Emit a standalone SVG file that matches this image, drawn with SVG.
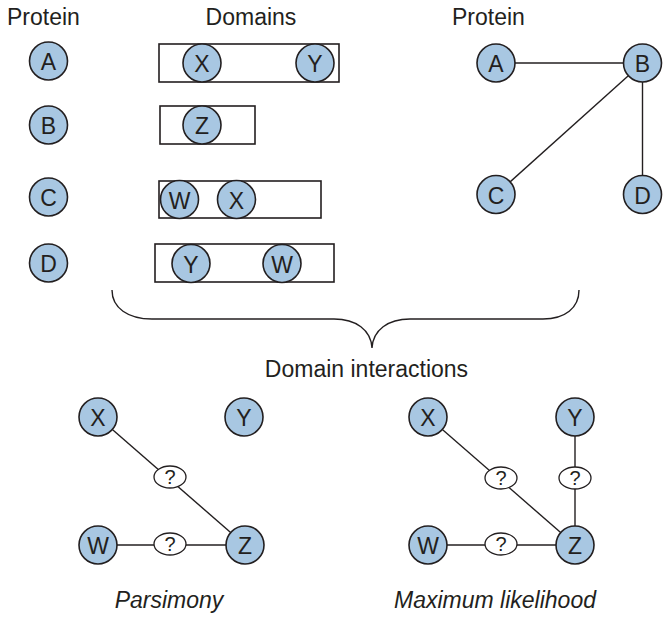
<svg xmlns="http://www.w3.org/2000/svg" width="670" height="618" viewBox="0 0 670 618">
<style>
text{font-family:"Liberation Sans",Arial,sans-serif;fill:#231f20}
.h{font-size:23px}
.n circle{fill:#a8c7e2;stroke:#231f20;stroke-width:1.6}
.n text{font-size:23px;text-anchor:middle;dominant-baseline:central}
.q ellipse{fill:#fff;stroke:#231f20;stroke-width:1.3}
.q text{font-size:20px;text-anchor:middle;dominant-baseline:central}
.box{fill:#fff;stroke:#231f20;stroke-width:1.6}
.e{stroke:#231f20;stroke-width:1.4;fill:none}
.it{font-size:23px;font-style:italic;text-anchor:middle}
</style>
<rect width="670" height="618" fill="#fff"/>
<text class="h" x="7" y="25">Protein</text>
<text class="h" x="251" y="25" text-anchor="middle">Domains</text>
<text class="h" x="452" y="25">Protein</text>

<g id="pA" class="n"><circle cx="48.5" cy="61" r="19"/><text x="48.5" y="62">A</text></g>
<g id="pB" class="n"><circle cx="48.5" cy="125" r="19"/><text x="48.5" y="126">B</text></g>
<g id="pC" class="n"><circle cx="48.5" cy="197" r="19"/><text x="48.5" y="198">C</text></g>
<g id="pD" class="n"><circle cx="48.5" cy="263" r="19"/><text x="48.5" y="264">D</text></g>

<g id="domA"><rect class="box" x="159" y="44" width="180" height="38"/>
<g class="n"><circle cx="202" cy="63" r="19"/><text x="202" y="64">X</text></g>
<g class="n"><circle cx="315" cy="63" r="19"/><text x="315" y="64">Y</text></g></g>
<g id="domB"><rect class="box" x="160" y="106" width="95" height="38"/>
<g class="n"><circle cx="202" cy="125" r="19"/><text x="202" y="126">Z</text></g></g>
<g id="domC"><rect class="box" x="159" y="181" width="162" height="37"/>
<g class="n"><circle cx="179.5" cy="199.5" r="19"/><text x="179.5" y="200.5">W</text></g>
<g class="n"><circle cx="236.5" cy="199.5" r="19"/><text x="236.5" y="200.5">X</text></g></g>
<g id="domD"><rect class="box" x="155" y="244" width="179" height="38"/>
<g class="n"><circle cx="191" cy="263.5" r="19"/><text x="191" y="264.5">Y</text></g>
<g class="n"><circle cx="282" cy="263.5" r="19"/><text x="282" y="264.5">W</text></g></g>

<g id="connectors">
<line class="e" x1="496" y1="63" x2="642.5" y2="63"/>
<line class="e" x1="642.5" y1="63" x2="496" y2="194.5"/>
<line class="e" x1="642.5" y1="63" x2="642.5" y2="194.5"/>
<line class="e" x1="98" y1="417" x2="245" y2="545"/>
<line class="e" x1="98" y1="545" x2="245" y2="545"/>
<line class="e" x1="428" y1="417" x2="575" y2="545"/>
<line class="e" x1="428" y1="545" x2="575" y2="545"/>
<line class="e" x1="575" y1="417" x2="575" y2="545"/>
</g>

<g id="rA" class="n"><circle cx="496" cy="63" r="19"/><text x="496" y="64">A</text></g>
<g id="rB" class="n"><circle cx="642.5" cy="63" r="19"/><text x="642.5" y="64">B</text></g>
<g id="rC" class="n"><circle cx="496" cy="194.5" r="19"/><text x="496" y="195.5">C</text></g>
<g id="rD" class="n"><circle cx="642.5" cy="194.5" r="19"/><text x="642.5" y="195.5">D</text></g>

<path id="brace" class="e" d="M112,290 C112,308 128,319 152,319 L334,319 C356,319 371,330 372,348 C373,330 388,319 410,319 L543,319 C565,319 579,308 579,290"/>
<text class="h" x="366.5" y="377" text-anchor="middle">Domain interactions</text>

<g id="pX" class="n"><circle cx="98" cy="417" r="19"/><text x="98" y="418">X</text></g>
<g id="pY" class="n"><circle cx="244" cy="417" r="19"/><text x="244" y="418">Y</text></g>
<g id="pW" class="n"><circle cx="98" cy="545" r="19"/><text x="98" y="546">W</text></g>
<g id="pZ" class="n"><circle cx="245" cy="545" r="19"/><text x="245" y="546">Z</text></g>
<g id="pq1" class="q"><ellipse cx="170" cy="477" rx="16" ry="11"/><text x="170" y="477">?</text></g>
<g id="pq2" class="q"><ellipse cx="170" cy="544" rx="16" ry="11"/><text x="170" y="544">?</text></g>
<text class="it" x="169" y="608">Parsimony</text>

<g id="mX" class="n"><circle cx="428" cy="417" r="19"/><text x="428" y="418">X</text></g>
<g id="mY" class="n"><circle cx="575" cy="417" r="19"/><text x="575" y="418">Y</text></g>
<g id="mW" class="n"><circle cx="428" cy="545" r="19"/><text x="428" y="546">W</text></g>
<g id="mZ" class="n"><circle cx="575" cy="545" r="19"/><text x="575" y="546">Z</text></g>
<g id="mq1" class="q"><ellipse cx="501" cy="478" rx="16" ry="11"/><text x="501" y="478">?</text></g>
<g id="mq2" class="q"><ellipse cx="575" cy="478" rx="16" ry="11"/><text x="575" y="478">?</text></g>
<g id="mq3" class="q"><ellipse cx="501" cy="544" rx="16" ry="11"/><text x="501" y="544">?</text></g>
<text class="it" x="495" y="608">Maximum likelihood</text>
</svg>
